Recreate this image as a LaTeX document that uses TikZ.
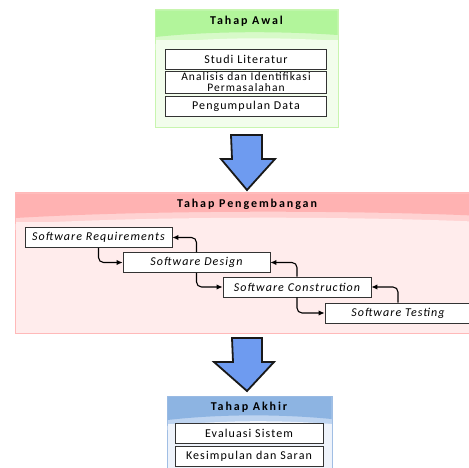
\documentclass[tikz,border=0pt]{standalone}
\usepackage{fontspec}
\setmainfont{Carlito}[LetterSpace=9]
\newfontfamily\headfont{Carlito}[LetterSpace=16]
\usetikzlibrary{arrows.meta}
\definecolor{gHead}{RGB}{178,245,155}
\definecolor{gBand}{RGB}{215,250,200}
\definecolor{gBody}{RGB}{242,253,236}
\definecolor{gLine}{RGB}{200,245,175}
\definecolor{pHead}{RGB}{255,178,178}
\definecolor{pBand}{RGB}{255,210,210}
\definecolor{pBody}{RGB}{255,236,236}
\definecolor{pLine}{RGB}{255,185,185}
\definecolor{bHead}{RGB}{141,180,226}
\definecolor{bBand}{RGB}{190,212,240}
\definecolor{bBody}{RGB}{238,243,251}
\definecolor{bLine}{RGB}{160,190,228}
\definecolor{arrFill}{RGB}{110,155,240}
\tikzset{
  box/.style={draw=black!80, line width=0.9pt, fill=white, minimum height=20pt,
    inner sep=1pt, font=\fontsize{12}{10}\selectfont, align=center},
  ibox/.style={box, font=\fontsize{12}{10}\selectfont\itshape},
  head/.style={font=\headfont\fontsize{12}{11}\selectfont\bfseries},
  conn/.style={draw=black, line width=1.1pt, rounded corners=5pt, -{Latex[length=6pt,width=5.5pt]}},
  bigarrow/.style={draw=black!90, line width=1.8pt, fill=arrFill, line join=miter}
}
\begin{document}
\begin{tikzpicture}[x=1pt,y=-1pt]
\useasboundingbox (0,0) rectangle (469,468);
\clip (0,0) rectangle (469,468);
% ---------- Tahap Awal ----------
\node[draw=gLine, line width=1pt, fill=gBody, minimum width=183pt, minimum height=118pt, inner sep=0pt] (awal) at (246.5,69) {};
\fill[gBand] (155.5,10.5) rectangle (337.5,40) ;
\fill[gHead] (155.5,10.5) -- (337.5,10.5) -- (337.5,35) .. controls (280,31) and (210,31) .. (155.5,37) -- cycle;
\fill[gBody] (155.5,44) .. controls (210,37) and (280,37) .. (337.5,41) -- (337.5,50) -- (155.5,50) -- cycle;
\node[head] (awalT) at (246.5,21) {Tahap Awal};
\node[box, minimum width=161pt] (studi) at (246,59) {Studi Literatur};
\node[box, minimum width=161pt, minimum height=22pt, inner sep=0pt, font=\fontsize{11.5}{11}\selectfont] (anal) at (246,82.5) {Analisis dan Identifikasi\\Permasalahan};
\node[box, minimum width=161pt] (kump) at (246,106) {Pengumpulan Data};
% ---------- arrow 1 ----------
\draw[bigarrow] (231,135) -- (262,135) -- (262,159) -- (275,159) -- (247,190) -- (221,159) -- (232,159) -- cycle;
% ---------- Tahap Pengembangan ----------
\node[draw=pLine, line width=1pt, fill=pBody, minimum width=470pt, minimum height=140pt, inner sep=0pt] (kembang) at (250.5,263) {};
\fill[pBand] (15.5,193.5) rectangle (485,222);
\fill[pHead] (15.5,193.5) -- (485,193.5) -- (485,216) .. controls (350,210) and (150,210) .. (15.5,218) -- cycle;
\fill[pBody] (15.5,224) .. controls (150,216) and (350,216) .. (485,222) -- (485,230) -- (15.5,230) -- cycle;
\node[head] (kembangT) at (247,204) {Tahap Pengembangan};
\node[ibox, minimum width=147pt] (req) at (98.5,237.5) {Software Requirements};
\node[ibox, minimum width=147pt] (des) at (196.5,262.5) {Software Design};
\node[ibox, minimum width=148pt] (con) at (297,287) {Software Construction};
\node[ibox, minimum width=146pt] (tes) at (398,313) {Software Testing};
\draw[conn] (req.south) |- (des.west);
\draw[conn] (des.south) |- (con.west);
\draw[conn] (con.south) |- (tes.west);
\draw[conn] (des.north) |- (req.east);
\draw[conn] (con.north) |- (des.east);
\draw[conn] (tes.north) |- (con.east);
% ---------- arrow 2 ----------
\draw[bigarrow] (232,338) -- (262,338) -- (262,362) -- (274,362) -- (247,391) -- (214,362) -- (233,362) -- cycle;
% ---------- Tahap Akhir ----------
\node[draw=bLine, line width=1pt, fill=bBody, minimum width=165pt, minimum height=80pt, inner sep=0pt] (akhir) at (249.5,436) {};
\fill[bBand] (167.5,396.5) rectangle (331.5,424);
\fill[bHead] (167.5,396.5) -- (331.5,396.5) -- (331.5,419) .. controls (280,414) and (220,414) .. (167.5,420) -- cycle;
\fill[bBody] (167.5,426) .. controls (220,420) and (280,420) .. (331.5,424) -- (331.5,430) -- (167.5,430) -- cycle;
\node[head] (akhirT) at (249,407) {Tahap Akhir};
\node[box, minimum width=148pt] (eval) at (249,433) {Evaluasi Sistem};
\node[box, minimum width=148pt] (simp) at (249,456.5) {Kesimpulan dan Saran};
\end{tikzpicture}
\end{document}
